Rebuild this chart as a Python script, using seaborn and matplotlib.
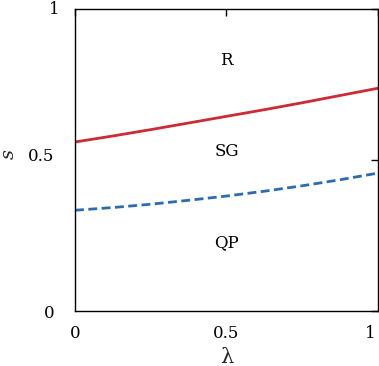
import matplotlib
matplotlib.use("Agg")
import matplotlib.pyplot as plt
import matplotlib.transforms as mtransforms
import seaborn as sns
import pandas as pd

lam = [0.0, 0.125, 0.25, 0.375, 0.5, 0.625, 0.75, 0.875, 1.0]
s_r_sg = [0.560, 0.580, 0.601, 0.623, 0.645, 0.667, 0.690, 0.714, 0.738]
s_sg_qp = [0.334, 0.343, 0.354, 0.367, 0.381, 0.397, 0.415, 0.435, 0.457]
region_labels = ["R", "SG", "QP"]
region_y = [0.83, 0.527, 0.228]
ticks = [0, 0.5, 1]
tick_labels = ["0", "0.5", "1"]

sns.set_theme(style="white")
plt.rcParams['font.family'] = ['DejaVu Serif']
plt.rcParams['mathtext.fontset'] = 'dejavuserif'

fig = plt.figure(figsize=(3.79, 3.66), dpi=100)
ax = fig.add_axes([0.198, 0.150, 0.799, 0.825])

df1 = pd.DataFrame({"lam": lam, "s": s_r_sg})
df2 = pd.DataFrame({"lam": lam, "s": s_sg_qp})
sns.lineplot(data=df1, x="lam", y="s", ax=ax, color="#cc2b35", lw=2.0)
sns.lineplot(data=df2, x="lam", y="s", ax=ax, color="#2a6cb3", lw=2.0, linestyle=(0, (3.2, 1.6)))

for lab, yy in zip(region_labels, region_y):
    ax.text(0.5, yy, lab, ha="center", va="center", fontsize=12, color="black")

ax.set_xlim(0, 1)
ax.set_ylim(0, 1)
ax.set_xticks(ticks)
ax.set_xticklabels(tick_labels)
ax.set_yticks(ticks)
ax.set_yticklabels(tick_labels)
ax.tick_params(direction="in", length=5, width=1.0, top=True, right=True,
               labelsize=12, colors="black")
ax.tick_params(axis="x", pad=10)
ax.tick_params(axis="y", pad=15)
for sp in ax.spines.values():
    sp.set_color("black")
    sp.set_linewidth(1.0)

# shift the last x tick label slightly left so it stays inside the figure
last = ax.get_xticklabels()[-1]
last.set_transform(last.get_transform() + mtransforms.ScaledTranslation(-8/100, 0, fig.dpi_scale_trans))
ylabs = ax.get_yticklabels()
ylabs[-1].set_transform(ylabs[-1].get_transform() + mtransforms.ScaledTranslation(5/100, 2/100, fig.dpi_scale_trans))
ylabs[1].set_transform(ylabs[1].get_transform() + mtransforms.ScaledTranslation(0, 6/100, fig.dpi_scale_trans))

ax.set_xlabel("λ", fontsize=15, labelpad=4)
ax.set_ylabel("$s$", fontsize=14)
ax.yaxis.set_label_coords(-0.19, 0.52)

fig.savefig("out.png", dpi=100)
